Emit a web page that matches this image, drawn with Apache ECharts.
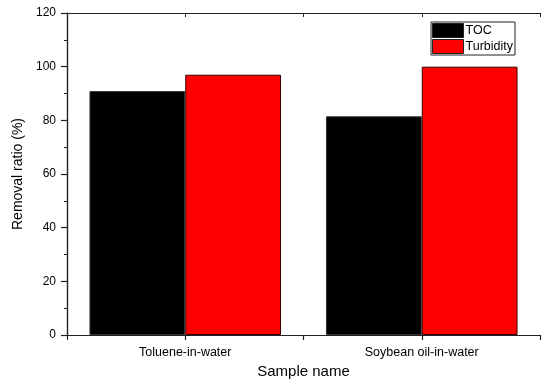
<!DOCTYPE html>
<html>
<head>
<meta charset="utf-8">
<script src="https://cdn.jsdelivr.net/npm/echarts@6/dist/echarts.min.js"></script>
<style>
  html, body { margin: 0; padding: 0; background: #fff; }
  #chart { width: 542px; height: 384px; }
</style>
</head>
<body>
<div id="chart"></div>
<script>
// Sample categories and measured removal ratios (%)
const categories = ['Toluene-in-water', 'Soybean oil-in-water'];
const tocValues = [90.9, 81.5];
const turbidityValues = [97.0, 100.0];
const seriesNames = ['TOC', 'Turbidity'];

const FONT = '"Liberation Sans", Arial, sans-serif';
const chart = echarts.init(document.getElementById('chart'), null, { renderer: 'canvas' });

const axisLine = { show: true, lineStyle: { color: '#222', width: 1.2 } };

chart.setOption({
  animation: false,
  backgroundColor: '#fff',
  grid: { left: 67, right: 2, top: 13, bottom: 46, containLabel: false },
  legend: {
    data: seriesNames,
    orient: 'vertical',
    right: 27,
    top: 22,
    itemWidth: 31,
    itemHeight: 14,
    itemGap: 1,
    padding: [1, 2, 1, 1],
    borderColor: '#222',
    borderWidth: 1,
    textStyle: { fontFamily: FONT, fontSize: 12.5, color: '#000', padding: [0, 0, 0, -3] },
    icon: 'rect',
    itemStyle: { borderColor: '#222', borderWidth: 1 }
  },
  xAxis: [
    {
      type: 'category',
      data: categories,
      position: 'bottom',
      name: 'Sample name',
      nameLocation: 'middle',
      nameGap: 29,
      nameTextStyle: { fontFamily: FONT, fontSize: 15, color: '#000' },
      axisLine: axisLine,
      axisTick: { show: false },
      axisLabel: { fontFamily: FONT, fontSize: 12.5, color: '#000', margin: 11 },
      splitLine: { show: false }
    },
    {
      // tick marks at category centres and boundaries
      type: 'value',
      min: 0, max: 4, interval: 1,
      position: 'bottom',
      axisLine: { show: false },
      axisTick: { show: true, length: 5, lineStyle: { color: '#222', width: 1.2 } },
      axisLabel: { show: false },
      splitLine: { show: false }
    },
    {
      // mirrored frame on top
      type: 'value',
      min: 0, max: 4, interval: 1,
      position: 'top',
      axisLine: axisLine,
      axisTick: { show: true, inside: true, length: 4, lineStyle: { color: '#222', width: 1 } },
      axisLabel: { show: false },
      splitLine: { show: false }
    }
  ],
  yAxis: [
    {
      type: 'value',
      min: 0, max: 120, interval: 20,
      position: 'left',
      name: 'Removal ratio (%)',
      nameLocation: 'middle',
      nameGap: 39,
      nameTextStyle: { fontFamily: FONT, fontSize: 14, color: '#000' },
      axisLine: axisLine,
      axisTick: { show: true, length: 6, lineStyle: { color: '#222', width: 1.2 } },
      minorTick: { show: true, splitNumber: 2, length: 3, lineStyle: { color: '#222', width: 1 } },
      axisLabel: { fontFamily: FONT, fontSize: 12, color: '#000', margin: 11 },
      splitLine: { show: false }
    },
    {
      type: 'value',
      min: 0, max: 120, interval: 20,
      position: 'right',
      axisLine: axisLine,
      axisTick: { show: true, inside: true, length: 4, lineStyle: { color: '#222', width: 1 } },
      minorTick: { show: true, splitNumber: 2, length: 2, lineStyle: { color: '#222', width: 1 } },
      axisLabel: { show: false },
      splitLine: { show: false }
    }
  ],
  series: [
    {
      name: seriesNames[0],
      type: 'bar',
      xAxisIndex: 0,
      yAxisIndex: 0,
      data: tocValues,
      barGap: '0%',
      barCategoryGap: '19%',
      itemStyle: { color: '#000', borderColor: '#333', borderWidth: 1 }
    },
    {
      name: seriesNames[1],
      type: 'bar',
      xAxisIndex: 0,
      yAxisIndex: 0,
      data: turbidityValues,
      barGap: '0%',
      barCategoryGap: '19%',
      itemStyle: { color: '#ff0000', borderColor: '#3a0000', borderWidth: 1 }
    }
  ]
});
</script>
</body>
</html>
